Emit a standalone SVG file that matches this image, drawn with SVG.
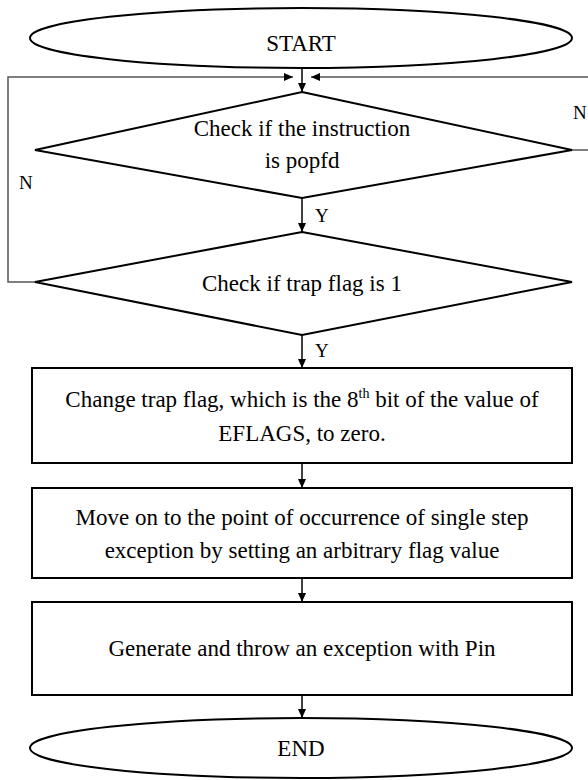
<svg xmlns="http://www.w3.org/2000/svg" width="588" height="780" viewBox="0 0 588 780">
<defs>
<marker id="ah" markerWidth="10" markerHeight="10" refX="9" refY="5" orient="auto" markerUnits="userSpaceOnUse">
<path d="M0,1 L9,5 L0,9 Z" fill="#000"/>
</marker>
<style>
.shape{fill:#fff;stroke:#000;stroke-width:2}
.t{font-size:23px;fill:#000;text-anchor:middle}
.lbl{font-size:19px;fill:#000}
.c{fill:none;stroke:#000;stroke-width:1.5}
.loop{fill:none;stroke:#555;stroke-width:1.5}
</style>
</defs>
<rect width="588" height="780" fill="#fff"/>
<g id="connectors" font-family="'Liberation Serif', 'DejaVu Serif', serif">
<polyline class="loop" points="35,282 8,282 8,77 293,77" marker-end="url(#ah)"/>
<polyline class="loop" points="572,150 592,150 592,77 311,77" marker-end="url(#ah)"/>
<line class="c" x1="302" y1="68" x2="302" y2="92" marker-end="url(#ah)"/>
<line class="c" x1="302" y1="198" x2="302" y2="232" marker-end="url(#ah)"/>
<line class="c" x1="302" y1="335" x2="302" y2="368" marker-end="url(#ah)"/>
<line class="c" x1="302" y1="463" x2="302" y2="488" marker-end="url(#ah)"/>
<line class="c" x1="302" y1="578" x2="302" y2="602" marker-end="url(#ah)"/>
<line class="c" x1="302" y1="695" x2="302" y2="718" marker-end="url(#ah)"/>
<text class="lbl" x="573" y="119">N</text>
<text class="lbl" x="19" y="189">N</text>
<text class="lbl" x="315" y="222">Y</text>
<text class="lbl" x="315" y="357">Y</text>
</g>
<g id="nodes" font-family="'Liberation Serif', 'DejaVu Serif', serif">
<g id="start">
<rect class="shape" x="30" y="8" width="542" height="60" rx="271" ry="30"/>
<text class="t" x="301" y="51">START</text>
</g>
<g id="check-popfd">
<polygon class="shape" points="302,92 572,150 302,198 35,150"/>
<text class="t" x="302" y="136">Check if the instruction</text>
<text class="t" x="302" y="168">is popfd</text>
</g>
<g id="check-trap">
<polygon class="shape" points="302,232 572,282 302,335 35,282"/>
<text class="t" x="302" y="291">Check if trap flag is 1</text>
</g>
<g id="change-flag">
<rect class="shape" x="32" y="368" width="540" height="95"/>
<text class="t" x="302" y="407">Change trap flag, which is the 8<tspan font-size="14" dy="-9">th</tspan><tspan dy="9"> bit of the value of</tspan></text>
<text class="t" x="302" y="441">EFLAGS, to zero.</text>
</g>
<g id="move-on">
<rect class="shape" x="32" y="488" width="540" height="90"/>
<text class="t" x="302" y="525">Move on to the point of occurrence of single step</text>
<text class="t" x="302" y="558">exception by setting an arbitrary flag value</text>
</g>
<g id="generate">
<rect class="shape" x="32" y="602" width="540" height="93"/>
<text class="t" x="302" y="656">Generate and throw an exception with Pin</text>
</g>
<g id="end">
<rect class="shape" x="30" y="718" width="542" height="60" rx="271" ry="30"/>
<text class="t" x="301" y="756">END</text>
</g>
</g>
</svg>
